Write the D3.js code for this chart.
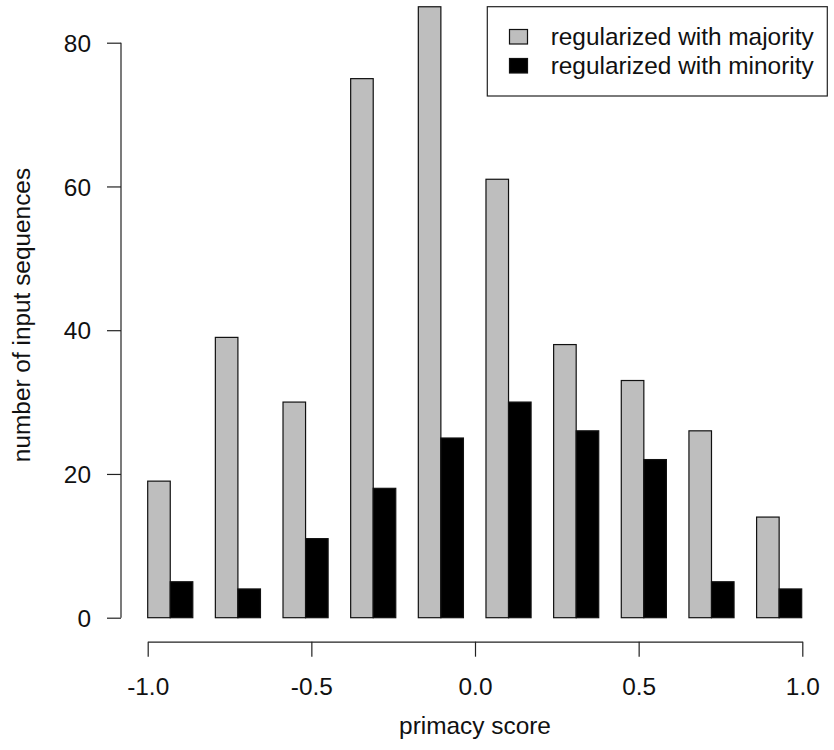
<!DOCTYPE html>
<html>
<head>
<meta charset="utf-8">
<script src="https://cdn.jsdelivr.net/npm/d3@7"></script>
<style>
  body { margin: 0; background: #fff; }
  svg text { font-family: "Liberation Sans", Arial, Helvetica, sans-serif; }
</style>
</head>
<body>
<svg id="chart" width="834" height="750"></svg>
<script>
// data
var seriesNames = ["regularized with majority", "regularized with minority"]
var seriesColors = ["#bebebe", "#000000"]
var majority = [19, 39, 30, 75, 85, 61, 38, 33, 26, 14]
var minority = [5, 4, 11, 18, 25, 30, 26, 22, 5, 4]
var yTicks = [0, 20, 40, 60, 80]
var xTicks = [-1.0, -0.5, 0.0, 0.5, 1.0]

var svg = d3.select("#chart")
var fontSize = 24.4

// scales
var yScale = d3.scaleLinear().domain([0, 80]).range([617.7, 42.7])
// barplot units: each group = 2 bars + 1 space
var barScale = d3.scaleLinear().domain([1, 30]).range([147.7, 801.7])
var xScale = d3.scaleLinear().domain([-1, 1]).range([147.7, 802.3])
var barW = barScale(2) - barScale(1)

var bars = []
majority.forEach(function(v, i) {
  bars.push({value: v, series: 0, left: 1 + 3 * i})
  bars.push({value: minority[i], series: 1, left: 2 + 3 * i})
})

svg.append("g").selectAll("rect").data(bars).enter().append("rect")
  .attr("x", d => barScale(d.left))
  .attr("y", d => yScale(d.value))
  .attr("width", barW)
  .attr("height", d => yScale(0) - yScale(d.value))
  .attr("fill", d => seriesColors[d.series])
  .attr("stroke", "#111")
  .attr("stroke-width", 1.2)

// y axis
var yAxis = d3.axisLeft(yScale).tickValues(yTicks).tickSize(14).tickSizeOuter(0).tickPadding(16)
var gy = svg.append("g").attr("transform", "translate(121,0)").call(yAxis)
gy.select(".domain").attr("d", "M0," + yScale(0) + "V" + yScale(80))

// x axis (plain hyphen for negatives, like R)
var xAxis = d3.axisBottom(xScale).tickValues(xTicks).tickSize(15).tickSizeOuter(0)
  .tickFormat(d => d.toFixed(1))
var gx = svg.append("g").attr("transform", "translate(0,641.7)").call(xAxis)

;[gx, gy].forEach(function(g) {
  g.selectAll("path, line").attr("stroke", "#222").attr("stroke-width", 1.2)
  g.selectAll("text").attr("font-size", fontSize).attr("fill", "#111")
    .style("font-family", "'Liberation Sans', Arial, Helvetica, sans-serif")
})
gy.selectAll("text").attr("dy", "0.36em")
gx.selectAll("text").attr("y", 53.3).attr("dy", 0)

// axis titles
svg.append("text").attr("x", 475).attr("y", 734)
  .attr("text-anchor", "middle").attr("font-size", fontSize).attr("fill", "#111")
  .text("primacy score")
svg.append("text").attr("transform", "translate(30,315) rotate(-90)")
  .attr("text-anchor", "middle").attr("font-size", fontSize).attr("fill", "#111")
  .text("number of input sequences")

// legend
var legend = svg.append("g")
legend.append("rect").attr("x", 487.3).attr("y", 6.7).attr("width", 340).attr("height", 89.3)
  .attr("fill", "#fff").attr("stroke", "#222").attr("stroke-width", 1.2)
var items = legend.selectAll("g.item").data(seriesNames).enter().append("g")
  .attr("transform", (d, i) => "translate(0," + (i * 29) + ")")
items.append("rect").attr("x", 509.5).attr("y", 29.5).attr("width", 18).attr("height", 14.5)
  .attr("fill", (d, i) => seriesColors[i]).attr("stroke", "#111").attr("stroke-width", 1.2)
items.append("text").attr("x", 550.7).attr("y", 45)
  .attr("font-size", fontSize).attr("fill", "#111").text(d => d)
</script>
</body>
</html>
